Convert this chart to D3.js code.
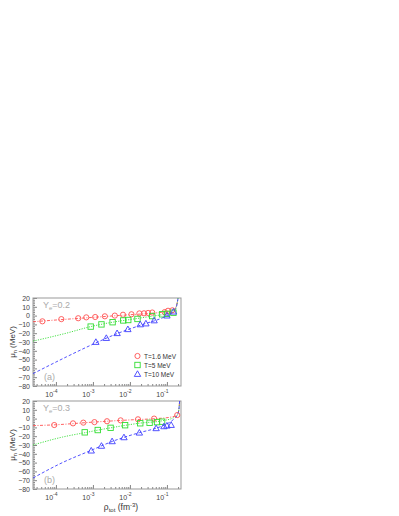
<!DOCTYPE html>
<html>
<head>
<meta charset="utf-8">
<script src="https://cdn.jsdelivr.net/npm/d3@7"></script>
<style>
  body { margin: 0; background: #fff; }
  svg { font-family: 'Liberation Sans', Arial, sans-serif; }
</style>
</head>
<body>
<div id="chart"></div>
<script>
// values
const seriesNames = ['T=1.6 MeV', 'T=5 MeV', 'T=10 MeV']
const yMajor = [20, 10, 0, -10, -20, -30, -40, -50, -60, -70, -80]
const xDecades = [-4, -3, -2, -1]

// panel (a), Ye = 0.2
const ptsA_T16 = [[4.3e-5, -6.5], [1.4e-4, -4], [4e-4, -3], [6.6e-4, -2], [1.15e-3, -1.6], [2.1e-3, -0.8], [3.9e-3, 0], [6.5e-3, 1], [1.1e-2, 1.5], [1.8e-2, 2.5], [2.4e-2, 2.6], [3.1e-2, 3], [4e-2, 3.5], [8.7e-2, 4], [0.107, 5.5], [0.14, 6]]
const ptsA_T5 = [[8.7e-4, -12.5], [1.7e-3, -10], [3.4e-3, -7.5], [6.6e-3, -5.5], [9e-3, -5], [1.6e-2, -3.8], [4e-2, -0.5], [7.4e-2, 1.5], [0.1, 2], [0.15, 3.3]]
const ptsA_T10 = [[1.2e-3, -30], [2.3e-3, -25.5], [4.5e-3, -20], [8.8e-3, -15.5], [1.9e-2, -10], [2.7e-2, -9], [4.5e-2, -5.5], [0.1, 0], [0.15, 4.5]]
const lineA_T16 = [[2.4e-5, -7], [1e-4, -5], [1e-3, -2], [1e-2, 1], [5e-2, 3], [0.1, 4.5], [0.15, 6.5], [0.18, 11], [0.2, 20]]
const lineA_T5 = [[2.4e-5, -29], [1.9e-4, -20], [8.7e-4, -12.5], [3.4e-3, -7.5], [1e-2, -4.5], [5e-2, 0], [0.1, 2], [0.15, 4.5], [0.18, 10], [0.2, 20]]
const lineA_T10 = [[2.4e-5, -66], [1.9e-4, -47], [1.2e-3, -31], [4.5e-3, -20.5], [1.9e-2, -11], [0.1, 0], [0.15, 4.5], [0.18, 10], [0.2, 20]]

// panel (b), Ye = 0.3
const ptsB_T16 = [[9e-5, -7.3], [2.9e-4, -5.4], [5.5e-4, -4.6], [1.1e-3, -4], [2.4e-3, -3], [5.6e-3, -2], [1.65e-2, -0.8], [4.5e-2, 0], [0.19, 4]]
const ptsB_T5 = [[6e-4, -15.6], [1.35e-3, -13], [3e-3, -10.5], [7.4e-3, -7.5], [1.9e-2, -5.3], [3.4e-2, -4.8], [5.4e-2, -4], [7.4e-2, -3.5]]
const ptsB_T10 = [[9e-4, -36.4], [1.7e-3, -31], [3.3e-3, -25.8], [6.9e-3, -21.3], [1.8e-2, -16], [5.1e-2, -11], [8.3e-2, -8.8], [0.1, -8], [0.13, -7.3]]
const lineB_T16 = [[2.4e-5, -8], [1e-4, -7], [1e-3, -4], [1e-2, -1.5], [5e-2, 0], [0.12, 1.5], [0.19, 4], [0.21, 10], [0.22, 20]]
const lineB_T5 = [[2.4e-5, -30], [1.5e-4, -21], [6e-4, -16], [3e-3, -10.5], [2e-2, -5], [7.4e-2, -2.5], [0.15, 1], [0.19, 4], [0.21, 10], [0.22, 20]]
const lineB_T10 = [[2.4e-5, -67.5], [1.5e-4, -50], [9e-4, -36], [3.3e-3, -26], [1.8e-2, -16], [5e-2, -11], [0.1, -6], [0.15, -1], [0.19, 4], [0.21, 10], [0.22, 20]]

const colors = ['#ff5050', '#33dd33', '#4040ff']
const dashes = ['3,1.5,1,1.5', '1.2,1.3', '3,2']

let w = 399
let h = 516
let left = 33
let right = 181

let svg = d3.select('#chart').append('svg')
  .attr('width', w)
  .attr('height', h)

let x = d3.scaleLog().domain([2.4e-5, 0.24]).range([left, right])

let panels = [
  { top: 298, bottom: 386, ye: '0.2', tag: '(a)', pts: [ptsA_T16, ptsA_T5, ptsA_T10], lines: [lineA_T16, lineA_T5, lineA_T10], legend: true },
  { top: 401, bottom: 489, ye: '0.3', tag: '(b)', pts: [ptsB_T16, ptsB_T5, ptsB_T10], lines: [lineB_T16, lineB_T5, lineB_T10], legend: false }
]

let xMinor = []
xDecades.concat([-5]).forEach(function (e) {
  for (let k = 2; k <= 9; k++) {
    let v = k * Math.pow(10, e)
    if (v >= 2.4e-5 && v <= 0.24) xMinor.push(v)
  }
})
let yMinor = d3.range(-80, 21, 2).filter(function (v) { return v % 10 !== 0 })

function marker (g, i, cx, cy) {
  if (i === 0) {
    g.append('circle').attr('cx', cx).attr('cy', cy).attr('r', 2.6)
      .attr('fill', 'none').attr('stroke', colors[0]).attr('stroke-width', 0.9)
  } else if (i === 1) {
    g.append('rect').attr('x', cx - 2.7).attr('y', cy - 2.7).attr('width', 5.4).attr('height', 5.4)
      .attr('fill', 'none').attr('stroke', colors[1]).attr('stroke-width', 0.9)
  } else {
    let s = 3.2
    g.append('path')
      .attr('d', 'M' + cx + ',' + (cy - s) + 'L' + (cx + s) + ',' + (cy + s * 0.75) + 'L' + (cx - s) + ',' + (cy + s * 0.75) + 'Z')
      .attr('fill', 'none').attr('stroke', colors[2]).attr('stroke-width', 0.9)
  }
}

panels.forEach(function (p) {
  let y = d3.scaleLinear().domain([-80, 20]).range([p.bottom, p.top])
  let g = svg.append('g')

  // clip for curves
  let cid = 'clip' + p.tag.replace(/[()]/g, '')
  svg.append('clipPath').attr('id', cid)
    .append('rect').attr('x', left).attr('y', p.top).attr('width', right - left).attr('height', p.bottom - p.top)

  // axes: ticks drawn inward
  let yAxis = d3.axisLeft(y).tickValues(yMajor).tickSize(-4).tickPadding(3)
  let yAxisMinor = d3.axisLeft(y).tickValues(yMinor).tickSize(-2).tickFormat('')
  let xAxis = d3.axisBottom(x).tickValues(xDecades.map(function (e) { return Math.pow(10, e) })).tickSize(-4).tickFormat('')
  let xAxisMinor = d3.axisBottom(x).tickValues(xMinor).tickSize(-2).tickFormat('')

  let ga = g.append('g').attr('transform', 'translate(' + left + ',0)').call(yAxis)
  g.append('g').attr('transform', 'translate(' + left + ',0)').call(yAxisMinor)
  g.append('g').attr('transform', 'translate(0,' + p.bottom + ')').call(xAxis)
  g.append('g').attr('transform', 'translate(0,' + p.bottom + ')').call(xAxisMinor)
  g.selectAll('.domain').remove()
  g.selectAll('.tick line').attr('stroke', '#666').attr('stroke-width', 0.8)
  ga.selectAll('text').attr('font-size', 7).attr('fill', '#444').attr('font-family', 'Liberation Sans, Arial, sans-serif')

  // x tick labels 10^n
  xDecades.forEach(function (e) {
    let t = g.append('text')
      .attr('x', x(Math.pow(10, e)) - 4.5)
      .attr('y', p.bottom + 11)
      .attr('font-size', 7)
      .attr('fill', '#444')
      .attr('text-anchor', 'middle')
    t.append('tspan').text('10')
    t.append('tspan').attr('dy', -4).attr('font-size', 5).text(String(e))
  })

  // frame
  g.append('rect')
    .attr('x', left).attr('y', p.top)
    .attr('width', right - left).attr('height', p.bottom - p.top)
    .attr('fill', 'none').attr('stroke', '#999').attr('stroke-width', 1)

  // curves
  let line = d3.line()
    .x(function (d) { return x(d[0]) })
    .y(function (d) { return y(d[1]) })
    .curve(d3.curveMonotoneX)
  p.lines.forEach(function (l, i) {
    g.append('path')
      .attr('d', line(l))
      .attr('clip-path', 'url(#' + cid + ')')
      .attr('fill', 'none')
      .attr('stroke', colors[i])
      .attr('stroke-width', 0.9)
      .attr('stroke-dasharray', dashes[i])
  })

  // points
  p.pts.forEach(function (s, i) {
    s.forEach(function (d) {
      marker(g, i, x(d[0]), y(d[1]))
    })
  })

  // Ye label
  let ye = g.append('text').attr('x', 43).attr('y', p.top + 10).attr('font-size', 9).attr('fill', '#aaa')
  ye.append('tspan').text('Y')
  ye.append('tspan').attr('font-size', 6).attr('dy', 2).text('e')
  ye.append('tspan').attr('dy', -2).text('=' + p.ye)

  g.append('text').attr('x', 44).attr('y', p.bottom - 6).attr('font-size', 9).attr('fill', '#aaa').text(p.tag)

  // y title
  let yt = g.append('text')
    .attr('transform', 'translate(15,' + ((p.top + p.bottom) / 2) + ') rotate(-90)')
    .attr('text-anchor', 'middle')
    .attr('font-size', 8)
    .attr('fill', '#333')
  yt.append('tspan').text('μ')
  yt.append('tspan').attr('font-size', 5.5).attr('dy', 2).text('n')
  yt.append('tspan').attr('dy', -2).text(' (MeV)')

  if (p.legend) {
    seriesNames.forEach(function (name, i) {
      let ly = 356 + i * 9
      marker(g, i, 137.5, ly)
      g.append('text').attr('x', 144).attr('y', ly + 2.5).attr('font-size', 6.5).attr('fill', '#333').text(name)
    })
  }
})

// x title
let xt = svg.append('text')
  .attr('x', 121).attr('y', 510)
  .attr('text-anchor', 'middle')
  .attr('font-size', 8.5)
  .attr('fill', '#333')
xt.append('tspan').text('ρ')
xt.append('tspan').attr('font-size', 6).attr('dy', 2).text('tot')
xt.append('tspan').attr('dy', -2).text(' (fm')
xt.append('tspan').attr('font-size', 6).attr('dy', -3).text('-3')
xt.append('tspan').attr('dy', 3).text(')')
</script>
</body>
</html>
